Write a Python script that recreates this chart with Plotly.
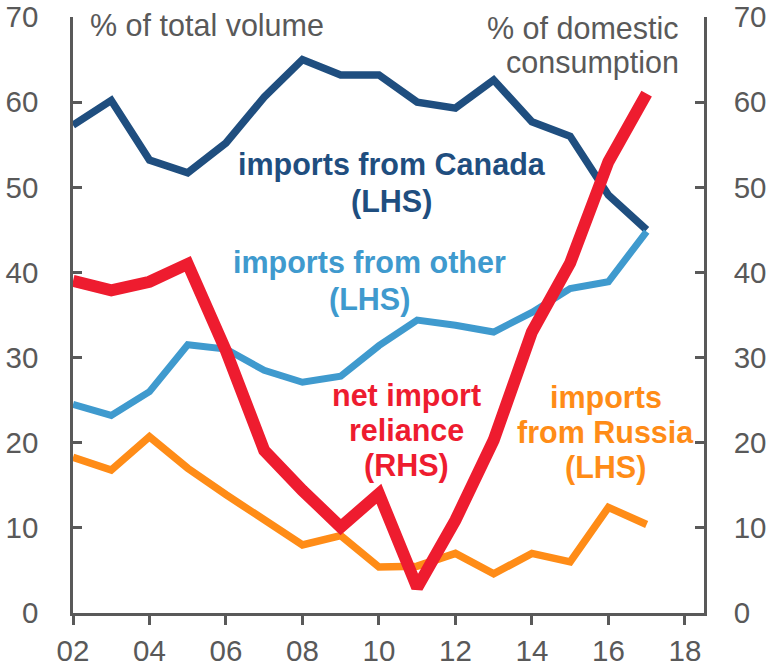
import plotly.graph_objects as go

# Years on the horizontal axis
years = list(range(2002, 2018))

# Shares of total import volume (%, left axis)
canada = [57.3, 60.2, 53.2, 51.7, 55.2, 60.6, 65.0, 63.2, 63.2, 60.0, 59.3, 62.6, 57.7, 56.0, 49.1, 45.0]
other = [24.5, 23.2, 26.0, 31.5, 31.0, 28.5, 27.1, 27.8, 31.4, 34.4, 33.8, 33.0, 35.3, 38.1, 38.9, 44.8]
russia = [18.3, 16.8, 20.7, 17.0, 13.9, 10.9, 8.0, 9.1, 5.4, 5.5, 7.0, 4.6, 7.0, 6.0, 12.4, 10.4]

# Net import reliance (% of domestic consumption, right axis)
reliance = [39.0, 37.9, 38.9, 41.0, 30.8, 19.1, 14.4, 10.1, 14.0, 3.0, 10.9, 20.3, 33.0, 41.1, 53.0, 61.0]

# Axis ticks
x_tickvals = [2002, 2004, 2006, 2008, 2010, 2012, 2014, 2016, 2018]
x_ticktext = ["02", "04", "06", "08", "10", "12", "14", "16", "18"]
y_tickvals = [0, 10, 20, 30, 40, 50, 60, 70]

C_CANADA = "#1F4E7F"
C_OTHER = "#3F9ACE"
C_RUSSIA = "#FF8C17"
C_RELIANCE = "#EE1C2F"
GREY = "#595959"
FONT = "Liberation Sans, Arial, sans-serif"

fig = go.Figure()
fig.add_trace(go.Scatter(x=years, y=canada, mode="lines", line=dict(color=C_CANADA, width=7.5),
                         name="imports from Canada"))
fig.add_trace(go.Scatter(x=years, y=other, mode="lines", line=dict(color=C_OTHER, width=7),
                         name="imports from other"))
fig.add_trace(go.Scatter(x=years, y=russia, mode="lines", line=dict(color=C_RUSSIA, width=7.5),
                         name="imports from Russia"))
fig.add_trace(go.Scatter(x=years, y=reliance, mode="lines", yaxis="y2",
                         line=dict(color=C_RELIANCE, width=12), name="net import reliance"))

axis_common = dict(
    showgrid=False, zeroline=False, showline=True, linecolor=GREY, linewidth=2.5,
    tickcolor=GREY, tickwidth=2.5, ticklen=9, automargin=False,
    tickfont=dict(family=FONT, size=29.5, color=GREY),
)

fig.update_layout(
    width=770, height=666,
    margin=dict(l=73, r=66, t=17, b=53),
    paper_bgcolor="white", plot_bgcolor="white",
    showlegend=False,
    xaxis=dict(range=[2002, 2018.5], tickvals=x_tickvals, ticktext=x_ticktext,
               ticks="outside", ticklabelstandoff=1, **axis_common),
    yaxis=dict(range=[0, 70], tickvals=y_tickvals, ticks="inside",
               ticklabelstandoff=26, **axis_common),
    yaxis2=dict(range=[0, 70], tickvals=y_tickvals, ticks="inside", overlaying="y",
                side="right", ticklabelstandoff=21, **axis_common),
)


def label(lines, x, ys, color, bold=True, xanchor="center"):
    """Place a multi-line text label, one annotation per line."""
    for text, y in zip(lines, ys):
        fig.add_annotation(
            text=f"<b>{text}</b>" if bold else text,
            x=x, y=y, xref="x", yref="y", xanchor=xanchor, yanchor="middle",
            showarrow=False,
            font=dict(family=FONT, size=30.5, color=color),
        )


label(["imports from Canada", "(LHS)"], 2010.33, [52.71, 48.36], C_CANADA)
label(["imports from other", "(LHS)"], 2009.76, [41.21, 36.86], C_OTHER)
label(["net import", "reliance", "(RHS)"], 2010.72, [25.58, 21.47, 17.35], C_RELIANCE)
label(["imports", "from Russia", "(LHS)"], 2015.93, [25.34, 21.23, 17.12], C_RUSSIA)

# Axis unit captions
label(["% of total volume"], 2002.39, [69.05], GREY, bold=False, xanchor="left")
label(["% of domestic", "consumption"], 2017.89, [68.7, 64.71], GREY, bold=False, xanchor="right")

fig.write_html("out.html")
